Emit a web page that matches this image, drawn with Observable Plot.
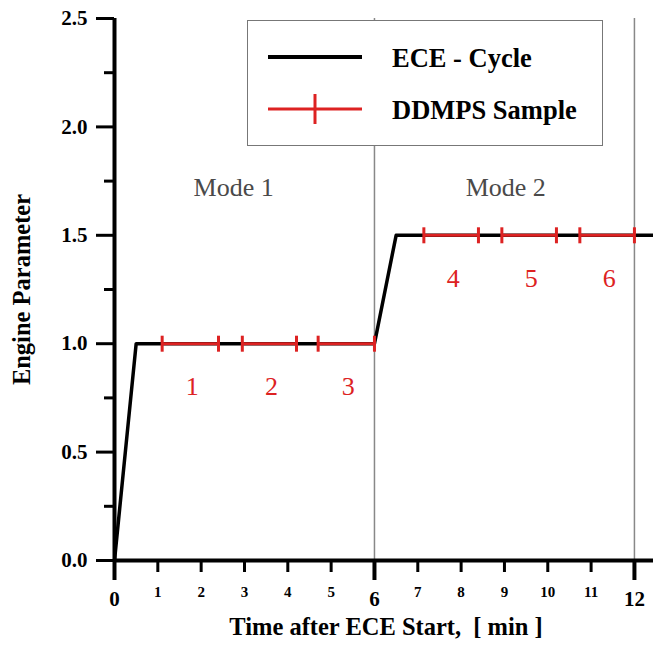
<!DOCTYPE html>
<html><head><meta charset="utf-8">
<script src="https://cdn.jsdelivr.net/npm/d3@7"></script>
<script src="https://cdn.jsdelivr.net/npm/@observablehq/plot@0.6"></script>
<style>
body{margin:0;background:#fff;}
#wrap{position:relative;width:653px;height:646px;}
#legend{position:absolute;left:247px;top:20px;width:356px;height:126px;box-sizing:border-box;border:1.5px solid #777;background:#fff;}
#legend svg{position:absolute;left:-1.5px;top:-1.5px;}
</style></head><body><div id="wrap"></div>
<script>
// ECE cycle (time in min, engine parameter)
const eceTime = [0, 0.5, 6, 6.5, 12.44];
const eceValue = [0, 1, 1, 1.5, 1.5];
// DDMPS samples
const sampleId = [1, 2, 3, 4, 5, 6];
const sampleStart = [1.1, 2.95, 4.7, 7.14, 8.94, 10.74];
const sampleEnd = [2.4, 4.2, 6.0, 8.4, 10.2, 12.0];
const sampleLevel = [1, 1, 1, 1.5, 1.5, 1.5];
// mode annotations
const modeNames = ["Mode 1", "Mode 2"];
const modeX = [2.75, 9.03];
const modeY = [1.72, 1.72];
const modeBounds = [6, 12];
// ticks
const yMajor = [0, 0.5, 1, 1.5, 2, 2.5];
const yMinor = [0.25, 0.75, 1.25, 1.75, 2.25];
const xMajor = [0, 6, 12];
const xMinor = [1, 2, 3, 4, 5, 7, 8, 9, 10, 11];
const legendLabels = ["ECE - Cycle", "DDMPS Sample"];
const xLabel = "Time after ECE Start,  [ min ]";
const yLabel = "Engine Parameter";

const RED = "#dd2222";
const FONT = "'Liberation Serif', 'Times New Roman', serif";

const ece = eceTime.map((t, i) => ({t, v: eceValue[i]}));
const samples = sampleId.map((id, i) => ({id, start: sampleStart[i], end: sampleEnd[i], level: sampleLevel[i]}));
const markers = samples.flatMap(s => [{x: s.start, y: s.level}, {x: s.end, y: s.level}]);
const modes = modeNames.map((name, i) => ({name, x: modeX[i], y: modeY[i]}));

const vbar = {draw(ctx, size) { const h = Math.sqrt(size / Math.PI); ctx.moveTo(0, -h); ctx.lineTo(0, h); }};

const chart = Plot.plot({
  width: 653, height: 646,
  marginLeft: 114, marginRight: 0, marginTop: 18, marginBottom: 86,
  style: {fontFamily: FONT, background: "#fff", color: "black", overflow: "visible"},
  x: {domain: [0, 12.44], label: null},
  y: {domain: [0, 2.5], label: null},
  marks: [
    Plot.ruleX(modeBounds, {stroke: "#888", strokeWidth: 1.5}),
    Plot.axisY({ticks: yMajor, tickSize: 18, tickPadding: 9, strokeWidth: 3, tickFormat: d3.format(".1f"), fontSize: 21, fontWeight: "bold", label: null}),
    Plot.axisY({ticks: yMinor, tickSize: 10, strokeWidth: 3, fill: "none", label: null}),
    Plot.axisX({ticks: xMajor, tickSize: 20, tickPadding: 11, strokeWidth: 4, fontSize: 21, fontWeight: "bold", label: null}),
    Plot.axisX({ticks: xMinor, tickSize: 12, tickPadding: 14, strokeWidth: 3, fontSize: 15, fontWeight: "bold", label: null}),
    Plot.ruleY([0], {stroke: "black", strokeWidth: 4}),
    Plot.ruleX([0], {stroke: "black", strokeWidth: 4}),
    Plot.line(ece, {x: "t", y: "v", stroke: "black", strokeWidth: 3.5}),
    Plot.link(samples, {x1: "start", x2: "end", y1: "level", y2: "level", stroke: RED, strokeWidth: 3}),
    Plot.dot(markers, {x: "x", y: "y", symbol: vbar, r: 8, stroke: RED, strokeWidth: 3}),
    Plot.text(samples, {x: d => (d.start + d.end) / 2, y: "level", text: "id", dy: 43, dx: 2, fill: RED, fontSize: 26}),
    Plot.text(modes, {x: "x", y: "y", text: "name", fill: "#4a4a4a", fontSize: 26}),
    Plot.text([xLabel], {frameAnchor: "bottom", textAnchor: "middle", dy: 74, dx: 2, fontSize: 24.5, fontWeight: "bold", fill: "black"}),
    Plot.text([yLabel], {frameAnchor: "left", textAnchor: "middle", dx: -92, rotate: -90, fontSize: 24.5, fontWeight: "bold", fill: "black"})
  ]
});
const wrap = document.getElementById("wrap");
wrap.appendChild(chart);

// legend
const lg = document.createElement("div");
lg.id = "legend";
const svg = d3.select(lg).append("svg").attr("width", 356).attr("height", 126);
const rows = [
  {label: legendLabels[0], stroke: "black", sw: 4, y: 37, cross: false},
  {label: legendLabels[1], stroke: RED, sw: 3, y: 89, cross: true}
];
rows.forEach(r => {
  svg.append("line").attr("x1", 21).attr("x2", 115).attr("y1", r.y).attr("y2", r.y).attr("stroke", r.stroke).attr("stroke-width", r.sw);
  if (r.cross) svg.append("line").attr("x1", 68).attr("x2", 68).attr("y1", r.y - 15).attr("y2", r.y + 15).attr("stroke", r.stroke).attr("stroke-width", 3);
  svg.append("text").attr("x", 145).attr("y", r.y + 10).attr("font-family", FONT).attr("font-weight", "bold").attr("font-size", 26.5).text(r.label);
});
wrap.appendChild(lg);
</script></body></html>
